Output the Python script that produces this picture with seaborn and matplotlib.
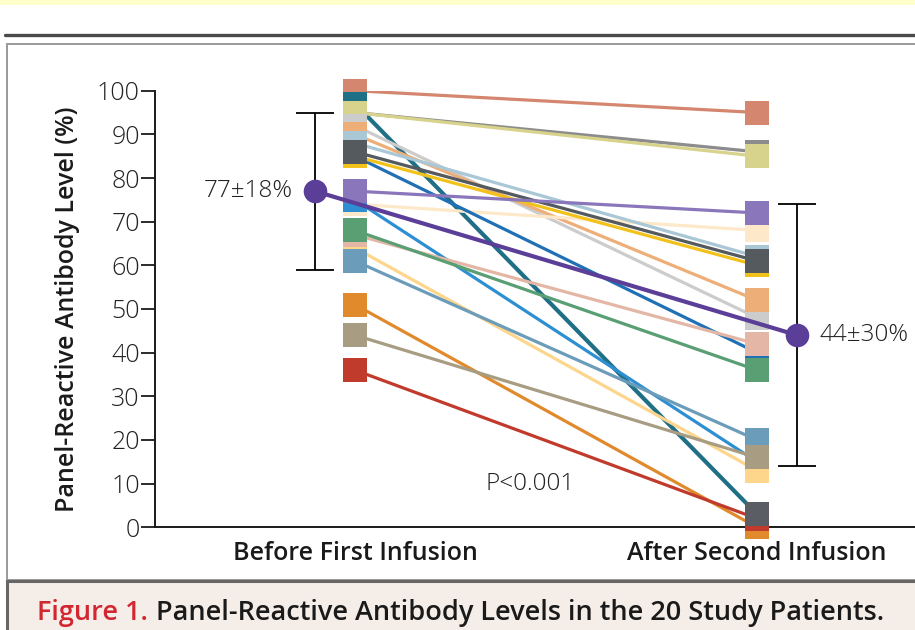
import pandas as pd
import matplotlib.pyplot as plt
import seaborn as sns
from matplotlib.patches import Rectangle
from matplotlib.lines import Line2D

# Panel-reactive antibody levels (%) for the 20 patients, in drawing order
patients = ['salmon', 'orange', 'red', 'teal', 'grey', 'khaki', 'lightgrey', 'sandy',
            'cream', 'lightblue', 'darkblue', 'yellow', 'darkgrey', 'blue', 'purple',
            'lightyellow', 'pink', 'green', 'steelblue', 'tan']
before = [100, 51, 36, 97, 95, 95, 92, 90, 74, 88, 85, 85, 86, 75, 77, 64, 67, 68, 61, 44]
after = [95, 0, 2, 3, 86, 85, 48, 52, 68, 62, 40, 60, 61, 15, 72, 13, 42, 36, 20, 16]
colors = ['#d4866e', '#e08a2c', '#c13b2c', '#1f6f87', '#8c8c8c', '#d8d38c', '#cccccc',
          '#eeae78', '#fde9c9', '#a9c7d4', '#1f70b5', '#f2c21a', '#555a5f', '#2d8fd2',
          '#8a76ba', '#fdd68c', '#e4b6a6', '#5a9f73', '#6b9cb9', '#a89d83']

time_labels = ['Before First Infusion', 'After Second Infusion']
means = [77, 44]
sds = [18, 30]
mean_labels = ['77\u00b118%', '44\u00b130%']
p_text = 'P<0.001'

# long table
rows = []
for name, b, a in zip(patients, before, after):
    rows.append({'patient': name, 'pos': 0, 'value': b, 'key': name})
    rows.append({'patient': name, 'pos': 1, 'value': a,
                 'key': 'teal_after' if name == 'teal' else name})
df = pd.DataFrame(rows)
df['order'] = df['patient'].map({p: i for i, p in enumerate(patients)})
df = df.sort_values(['order', 'pos'])

palette = dict(zip(patients, colors))
palette['teal_after'] = '#5a5e64'

sns.set_theme(style='white')
plt.rcParams['font.family'] = ['Open Sans', 'DejaVu Sans']

fig = plt.figure(figsize=(9.15, 6.3), dpi=100)

# page decorations
fig.patches.append(Rectangle((0, 1 - 5 / 630), 1, 5 / 630, transform=fig.transFigure,
                             facecolor='#ffffcc', edgecolor='none'))
fig.lines.append(Line2D([5 / 915, 1], [1 - 34.5 / 630] * 2, transform=fig.transFigure,
                        color='#4a4a4a', linewidth=2.4))
fig.patches.append(Rectangle((6.5 / 915, 50 / 630), 1.2, (580 - 44) / 630,
                             transform=fig.transFigure, facecolor='none',
                             edgecolor='#9a9a9a', linewidth=1.4))
fig.patches.append(Rectangle((6.5 / 915, -0.1), 1.2, 0.1 + 49 / 630,
                             transform=fig.transFigure, facecolor='#f4ede8',
                             edgecolor='#666666', linewidth=2.2))

ax = fig.add_axes([155 / 915, 102.7 / 630, 760 / 915, 436.6 / 630])
ax.set_facecolor('none')

sns.lineplot(data=df, x='pos', y='value', hue='patient', hue_order=patients,
             units='patient', estimator=None, palette=palette, linewidth=2.3,
             legend=False, ax=ax, zorder=2)
# the steep teal line is drawn a bit heavier in the original
ax.lines[patients.index('teal')].set_linewidth(3)

sns.scatterplot(data=df, x='pos', y='value', hue='key', palette=palette, marker='s',
                s=300, linewidth=0, legend=False, ax=ax, zorder=3, clip_on=False)

# means with SD
mean_x = [-0.1, 1.1]
ax.errorbar(mean_x, means, yerr=sds, fmt='none', ecolor='black', elinewidth=1.3,
            capsize=14, capthick=1.3, zorder=4)
sns.lineplot(x=mean_x, y=means, color='#5b3e98', linewidth=3, marker='o',
             markersize=17, markeredgewidth=0, ax=ax, zorder=5)

txt_kw = dict(fontsize=17.5, color='#222222', fontweight='light')
ax.annotate(mean_labels[0], (mean_x[0], means[0]), xytext=(-16, 0),
            textcoords='offset points', ha='right', va='center', **txt_kw)
ax.annotate(mean_labels[1], (mean_x[1], means[1]), xytext=(16, 0),
            textcoords='offset points', ha='left', va='center', **txt_kw)
ax.text(0.435, 10, p_text, ha='center', va='center', **txt_kw)

ax.set_xlim(-0.4975, 1.393)
ax.set_ylim(0, 100)
ax.set_yticks(range(0, 101, 10))
ax.set_yticklabels([str(v) for v in range(0, 101, 10)], fontsize=18,
                   fontweight='light', color='#222222')
ax.set_xticks([0, 1])
ax.set_xticklabels(time_labels, fontsize=18, fontweight='semibold', color='#1a1a1a')
ax.tick_params(axis='y', direction='out', length=10, width=1.3, pad=1,
               left=True, color='#1a1a1a')
ax.tick_params(axis='x', length=0, pad=10)
ax.set_xlabel('')
ax.set_ylabel('Panel-Reactive Antibody Level (%)', fontsize=18, fontweight='semibold',
              color='#1a1a1a', labelpad=12)

for side in ['top', 'right']:
    ax.spines[side].set_visible(False)
for side in ['left', 'bottom']:
    ax.spines[side].set_color('#1a1a1a')
    ax.spines[side].set_linewidth(1.4)

# caption
t1 = fig.text(37 / 915, 1 - 613 / 630, 'Figure 1.', color='#d22630', fontsize=19.5,
              fontweight='semibold', va='center', ha='left')
fig.canvas.draw()
bb = t1.get_window_extent(fig.canvas.get_renderer())
fig.text((bb.x1 + 8) / 915, 1 - 613 / 630,
         'Panel-Reactive Antibody Levels in the 20 Study Patients.',
         color='#1a1a1a', fontsize=19.5, fontweight='semibold', va='center', ha='left')

plt.savefig('out.png', dpi=100)
